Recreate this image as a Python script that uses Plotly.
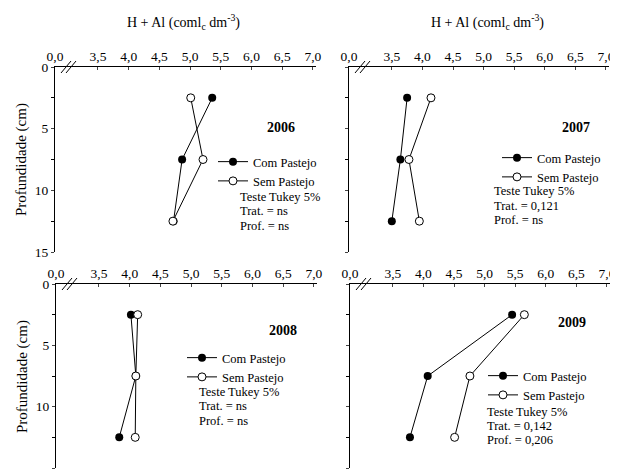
import plotly.graph_objects as go

# ---- data ----
depth = [2.5, 7.5, 12.5]
years = ["2006", "2007", "2008", "2009"]
com_pastejo = {
    "2006": [5.36, 4.87, 4.73],
    "2007": [3.75, 3.64, 3.50],
    "2008": [4.02, 4.10, 3.83],
    "2009": [5.45, 4.07, 3.78],
}
sem_pastejo = {
    "2006": [5.01, 5.21, 4.72],
    "2007": [4.14, 3.78, 3.95],
    "2008": [4.13, 4.10, 4.09],
    "2009": [5.65, 4.76, 4.51],
}
stats = {
    "2006": ["Teste Tukey 5%", "Trat. = ns", "Prof. = ns"],
    "2007": ["Teste Tukey 5%", "Trat. = 0,121", "Prof. = ns"],
    "2008": ["Teste Tukey 5%", "Trat. = ns", "Prof. = ns"],
    "2009": ["Teste Tukey 5%", "Trat. = 0,142", "Prof. = 0,206"],
}
x_tickvals = [2.8, 3.5, 4.0, 4.5, 5.0, 5.5, 6.0, 6.5, 7.0]
x_ticktext = ["0,0", "3,5", "4,0", "4,5", "5,0", "5,5", "6,0", "6,5", "7,0"]
y_tickvals = [0, 5, 10, 15]

# page has an 8px body margin: figure sized to fit the window exactly
OFF = 8
W, H = 618 - OFF, 470 - OFF
FONT = "Liberation Serif, Times New Roman, serif"

# panel pixel boxes in window coordinates: (left, right, top, bottom)
boxes = [(55, 316, 67, 252), (349, 609, 67, 252),
         (56, 317, 284, 468), (350, 610, 284, 468)]

def px_x(p):
    return (p - OFF) / W

def px_y(p):
    return 1 - (p - OFF) / H

fig = go.Figure()
layout = {}
for i, yr in enumerate(years):
    n = i + 1
    sfx = "" if n == 1 else str(n)
    l, r, t, b = boxes[i]
    lg = "legend" if n == 1 else f"legend{n}"
    fig.add_trace(go.Scatter(
        x=com_pastejo[yr], y=depth, mode="lines+markers", name="Com Pastejo",
        xaxis=f"x{sfx}", yaxis=f"y{sfx}", legend=lg,
        line=dict(color="black", width=1),
        marker=dict(symbol="circle", size=8, color="black"),
    ))
    fig.add_trace(go.Scatter(
        x=sem_pastejo[yr], y=depth, mode="lines+markers", name="Sem Pastejo",
        xaxis=f"x{sfx}", yaxis=f"y{sfx}", legend=lg,
        line=dict(color="black", width=1),
        marker=dict(symbol="circle", size=8, color="white",
                    line=dict(color="black", width=1)),
    ))
    layout[f"xaxis{sfx}"] = dict(
        domain=[px_x(l), min(px_x(r), 1)], anchor=f"y{sfx}", side="top",
        range=[2.8, 7.05], tickvals=x_tickvals, ticktext=x_ticktext,
        ticks="inside", ticklen=3, showline=True, linecolor="black",
        linewidth=1, showgrid=False, zeroline=False, automargin=False,
        tickfont=dict(family=FONT, size=13.5, color="black"),
    )
    layout[f"yaxis{sfx}"] = dict(
        domain=[max(px_y(b), 0), px_y(t)], anchor=f"x{sfx}",
        range=[15, 0], tickvals=y_tickvals,
        showticklabels=(n in (1, 3)),
        ticks="outside", ticklen=3, showline=True, linecolor="black",
        linewidth=1, showgrid=False, zeroline=False, automargin=False,
        minor=dict(dtick=2.5, ticks="outside", ticklen=3, tickcolor="black"),
        tickfont=dict(family=FONT, size=13.5, color="black"),
    )

fig.update_layout(**layout)

# legends: (line start x, first item center y) in window pixels
leg_pos = [(218, 163), (502, 159), (187, 359), (488, 377)]
for i, (lx, ly) in enumerate(leg_pos):
    n = i + 1
    key = "legend" if n == 1 else f"legend{n}"
    fig.update_layout(**{key: dict(
        x=px_x(lx - 5), y=px_y(ly - 16), xanchor="left", yanchor="top",
        xref="paper", yref="paper",
        font=dict(family=FONT, size=12.5, color="black"),
        bgcolor="rgba(0,0,0,0)", borderwidth=0, tracegroupgap=0,
        itemwidth=30,
    )})

ann = []
# top titles
for cx in (183, 487):
    ann.append(dict(x=px_x(cx), y=px_y(22), xref="paper", yref="paper",
                    text="H + Al (coml<sub>c</sub> dm<sup>-3</sup>)",
                    showarrow=False, font=dict(family=FONT, size=14, color="black"),
                    xanchor="center", yanchor="middle"))
# y titles
for cy in (160, 377):
    ann.append(dict(x=px_x(22), y=px_y(cy), xref="paper", yref="paper",
                    text="Profundidade (cm)", textangle=-90, showarrow=False,
                    font=dict(family=FONT, size=15, color="black"),
                    xanchor="center", yanchor="middle"))
# year labels
year_pos = [(281, 128), (576, 127), (283, 330), (572, 322)]
for yr, (cx, cy) in zip(years, year_pos):
    ann.append(dict(x=px_x(cx), y=px_y(cy), xref="paper", yref="paper",
                    text=f"<b>{yr}</b>", showarrow=False,
                    font=dict(family=FONT, size=14, color="black"),
                    xanchor="center", yanchor="middle"))
# stats text
stat_pos = [(238, [197, 211, 226]), (492, [191, 206, 220]),
            (197, [392, 406, 421]), (485, [412, 426, 440])]
for yr, (sx, ys) in zip(years, stat_pos):
    for txt, yy in zip(stats[yr], ys):
        ann.append(dict(x=px_x(sx), y=px_y(yy), xref="paper", yref="paper",
                        text=txt, showarrow=False,
                        font=dict(family=FONT, size=12.5, color="black"),
                        xanchor="left", yanchor="middle"))

# axis break marks "//"
shapes = []
for (l, r, t, b) in boxes:
    for off in (0, 5):
        x0 = l + 6 + off
        shapes.append(dict(type="line", xref="paper", yref="paper",
                           x0=px_x(x0), y0=px_y(t + 6),
                           x1=px_x(x0 + 10), y1=px_y(t - 6),
                           line=dict(color="black", width=1)))

fig.update_layout(
    width=W, height=H, margin=dict(l=0, r=0, t=0, b=0, autoexpand=False),
    paper_bgcolor="white", plot_bgcolor="white",
    annotations=ann, shapes=shapes, showlegend=True,
    font=dict(family=FONT, color="black"),
)

fig.write_html("out.html")
